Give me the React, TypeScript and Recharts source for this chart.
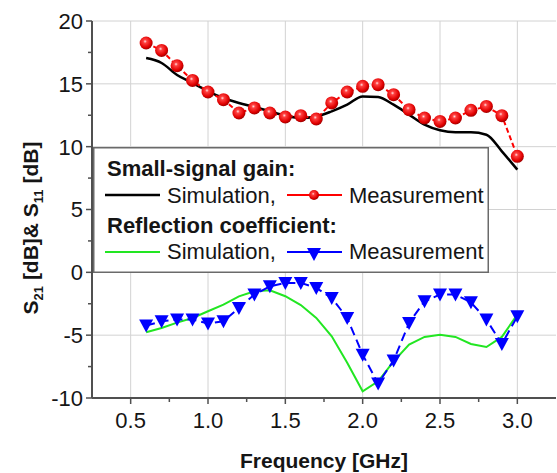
import React from 'react';
import { LineChart, Line, XAxis, YAxis, CartesianGrid, Legend } from 'recharts';

// frequency points [GHz]
const freq = [0.6, 0.7, 0.8, 0.9, 1.0, 1.1, 1.2, 1.3, 1.4, 1.5, 1.6, 1.7, 1.8, 1.9, 2.0, 2.1, 2.2, 2.3, 2.4, 2.5, 2.6, 2.7, 2.8, 2.9, 3.0];

// small-signal gain S21 [dB]
const s21Sim = [17.05, 16.66, 15.7, 15.07, 14.4, 13.87, 13.48, 13.16, 12.81, 12.47, 12.28, 12.4, 12.81, 13.34, 14.0, 13.95, 13.34, 12.55, 11.75, 11.3, 11.14, 11.14, 10.95, 9.63, 8.17];
const s21Meas = [18.25, 17.66, 16.44, 15.27, 14.35, 13.74, 12.68, 13.08, 12.68, 12.36, 12.47, 12.2, 13.48, 14.35, 14.8, 14.93, 14.14, 12.94, 12.28, 12.01, 12.28, 12.89, 13.2, 12.47, 9.23];

// reflection coefficient S11 [dB]
const s11Sim = [-4.77, -4.43, -4.0, -3.63, -3.1, -2.57, -1.91, -1.51, -1.43, -1.9, -2.6, -3.63, -5.09, -7.2, -9.47, -8.67, -7.08, -5.75, -5.14, -4.96, -5.14, -5.7, -5.94, -5.14, -3.37];
const s11Meas = [-4.24, -3.9, -3.76, -3.76, -4.08, -3.9, -2.83, -1.77, -1.11, -0.84, -0.84, -1.24, -2.04, -3.63, -6.55, -8.85, -7.02, -4.03, -2.3, -1.77, -1.77, -2.39, -3.76, -5.7, -3.5];

const xMajor = [0.5, 1.0, 1.5, 2.0, 2.5, 3.0];
const xMinor = [0.75, 1.25, 1.75, 2.25, 2.75];
const yMajor = [-10, -5, 0, 5, 10, 15, 20];
const yMinor = [-7.5, -2.5, 2.5, 7.5, 12.5, 17.5];

const data = freq.map((f, i) => ({
  f,
  s21Sim: s21Sim[i],
  s21Meas: s21Meas[i],
  s11Sim: s11Sim[i],
  s11Meas: s11Meas[i],
}));

const xTicks = [...xMajor, ...xMinor].sort((a, b) => a - b);
const yTicks = [...yMajor, ...yMinor].sort((a, b) => a - b);

const FONT = '"Liberation Sans", Arial, Helvetica, sans-serif';
const AXIS = '#505050';
const TXT = '#151515';

const isMajor = (v: number, arr: number[]) => arr.some((m) => Math.abs(m - v) < 1e-6);

const BottomTick = ({ x, y, payload }: any) => {
  const major = isMajor(payload.value, xMajor);
  return (
    <g>
      <line x1={x} x2={x} y1={y} y2={y + (major ? 6 : 4)} stroke={AXIS} strokeWidth={1.5} />
      {major && (
        <text x={x} y={y + 30} textAnchor="middle" fontSize={22} fontFamily={FONT} fill={TXT}>
          {payload.value.toFixed(1)}
        </text>
      )}
    </g>
  );
};

const TopTick = ({ x, y, payload }: any) => {
  const major = isMajor(payload.value, xMajor);
  return <line x1={x} x2={x} y1={y} y2={y + (major ? 7 : 4)} stroke={AXIS} strokeWidth={1.5} />;
};

const LeftTick = ({ x, y, payload }: any) => {
  const major = isMajor(payload.value, yMajor);
  return (
    <g>
      <line x1={x} x2={x - (major ? 6 : 4)} y1={y} y2={y} stroke={AXIS} strokeWidth={1.5} />
      {major && (
        <text x={x - 9} y={y} dy="0.36em" textAnchor="end" fontSize={22} fontFamily={FONT} fill={TXT}>
          {payload.value}
        </text>
      )}
    </g>
  );
};

const RightTick = ({ x, y, payload }: any) => {
  const major = isMajor(payload.value, yMajor);
  return <line x1={x} x2={x - (major ? 7 : 4)} y1={y} y2={y} stroke={AXIS} strokeWidth={1.5} />;
};

const YTitle = () => (
  <text
    x={38}
    y={228}
    transform="rotate(-90, 38, 228)"
    textAnchor="middle"
    fontSize={21}
    fontWeight="bold"
    fontFamily={FONT}
    fill={TXT}
  >
    <tspan>S</tspan>
    <tspan fontSize={13} dy={5}>21</tspan>
    <tspan dy={-5}> [dB]&amp; S</tspan>
    <tspan fontSize={13} dy={5}>11</tspan>
    <tspan dy={-5}> [dB]</tspan>
  </text>
);

const XTitle = () => (
  <text x={324} y={468} textAnchor="middle" fontSize={21} fontWeight="bold" fontFamily={FONT} fill={TXT}>
    Frequency [GHz]
  </text>
);

const RedBall = ({ cx, cy, r = 6.5, index }: any) => (
  <circle key={`rb-${index}`} cx={cx} cy={cy} r={r} fill="url(#redBall)" />
);

const BlueTri = ({ cx, cy, index }: any) => (
  <path
    key={`bt-${index}`}
    d={`M${cx - 7},${cy - 6} L${cx + 7},${cy - 6} L${cx},${cy + 7} Z`}
    fill="#0000ff"
  />
);

const LegendBox = () => (
  <svg width={396} height={126} style={{ display: 'block' }}>
    <rect x={0.75} y={0.75} width={394.5} height={124.5} fill="#fff" stroke="#6a6a6a" strokeWidth={1.5} />
    <g fontFamily={FONT} fill={TXT}>
      <text x={14} y={29} fontSize={22} fontWeight="bold">Small-signal gain:</text>
      <line x1={12} x2={67} y1={48} y2={48} stroke="#000" strokeWidth={2.5} />
      <text x={74} y={56} fontSize={22}>Simulation,</text>
      <line x1={194} x2={249} y1={48} y2={48} stroke="#ff0000" strokeWidth={2} />
      <RedBall cx={221} cy={48} r={5} index="lg" />
      <text x={256} y={56} fontSize={22}>Measurement</text>

      <text x={14} y={86} fontSize={22} fontWeight="bold">Reflection coefficient:</text>
      <line x1={12} x2={67} y1={105} y2={105} stroke="#22e622" strokeWidth={2} />
      <text x={74} y={112} fontSize={22}>Simulation,</text>
      <line x1={194} x2={249} y1={105} y2={105} stroke="#0000ff" strokeWidth={2} />
      <BlueTri cx={221} cy={107} index="lg" />
      <text x={256} y={112} fontSize={22}>Measurement</text>
    </g>
  </svg>
);

export default function App() {
  return (
    <div style={{ position: 'absolute', left: 0, top: 0, width: 557, height: 473, background: '#fff' }}>
      <svg width={0} height={0} style={{ position: 'absolute' }}>
        <defs>
          <radialGradient id="redBall" cx="42%" cy="38%" r="62%">
            <stop offset="0%" stopColor="#ffe0e0" />
            <stop offset="22%" stopColor="#ff4040" />
            <stop offset="75%" stopColor="#e00000" />
            <stop offset="100%" stopColor="#a00000" />
          </radialGradient>
        </defs>
      </svg>
      <LineChart width={557} height={473} data={data} margin={{ top: 21, right: 1, bottom: 0, left: 0 }}>
        <CartesianGrid verticalValues={xMajor} horizontalValues={yMajor} stroke="#d2d2d2" strokeWidth={1} />
        <XAxis
          dataKey="f"
          type="number"
          domain={[0.25, 3.25]}
          ticks={xTicks}
          interval={0}
          height={75}
          tickSize={0}
          tickMargin={0}
          tickLine={false}
          axisLine={{ stroke: AXIS, strokeWidth: 2 }}
          tick={<BottomTick />}
          label={<XTitle />}
        />
        <XAxis
          xAxisId="top"
          orientation="top"
          dataKey="f"
          type="number"
          domain={[0.25, 3.25]}
          ticks={xTicks}
          interval={0}
          height={0}
          tickSize={0}
          tickMargin={0}
          tickLine={false}
          axisLine={{ stroke: AXIS, strokeWidth: 2 }}
          tick={<TopTick />}
        />
        <YAxis
          type="number"
          domain={[-10, 20]}
          ticks={yTicks}
          interval={0}
          width={92}
          tickSize={0}
          tickMargin={0}
          tickLine={false}
          axisLine={{ stroke: AXIS, strokeWidth: 2 }}
          tick={<LeftTick />}
          label={<YTitle />}
        />
        <YAxis
          yAxisId="right"
          orientation="right"
          type="number"
          domain={[-10, 20]}
          ticks={yTicks}
          interval={0}
          width={0}
          tickSize={0}
          tickMargin={0}
          tickLine={false}
          axisLine={{ stroke: AXIS, strokeWidth: 2 }}
          tick={<RightTick />}
        />
        <Line dataKey="s21Sim" type="monotone" stroke="#000" strokeWidth={2.5} dot={false} isAnimationActive={false} />
        <Line dataKey="s11Sim" type="linear" stroke="#22e622" strokeWidth={2} dot={false} isAnimationActive={false} />
        <Line
          dataKey="s21Meas"
          type="linear"
          stroke="#ff0000"
          strokeWidth={2}
          strokeDasharray="5 3"
          dot={(p: any) => <RedBall key={`rb-${p.index}`} cx={p.cx} cy={p.cy} index={p.index} />}
          isAnimationActive={false}
        />
        <Line
          dataKey="s11Meas"
          type="linear"
          stroke="#0000ff"
          strokeWidth={2}
          strokeDasharray="9 5"
          dot={(p: any) => <BlueTri key={`bt-${p.index}`} cx={p.cx} cy={p.cy} index={p.index} />}
          isAnimationActive={false}
        />
        <Legend
          layout="horizontal"
          verticalAlign="middle"
          align="center"
          content={() => <LegendBox />}
          wrapperStyle={{ left: 93, top: 147, width: 396, height: 126 }}
        />
      </LineChart>
    </div>
  );
}
